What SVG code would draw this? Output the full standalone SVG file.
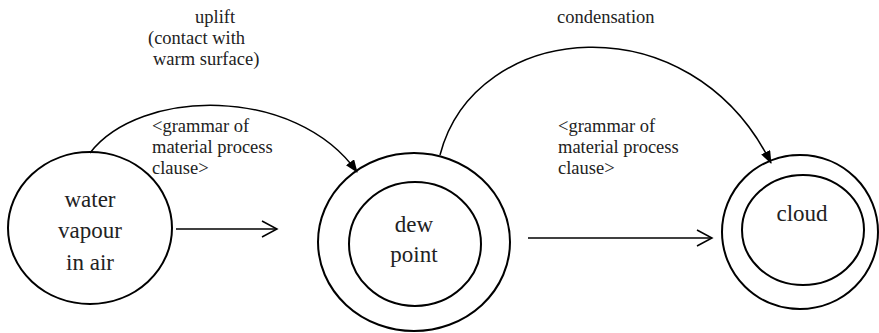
<svg xmlns="http://www.w3.org/2000/svg" width="879" height="333" viewBox="0 0 879 333">
<style>
.node{fill:none;stroke:#000;stroke-width:2}
.nt{font-size:23px;fill:#222;text-anchor:middle}
.lt{font-size:18.5px;fill:#222}
.arc{fill:none;stroke:#000;stroke-width:1.5}
.str{fill:none;stroke:#000;stroke-width:1.5}
</style>
<defs>
<marker id="filled" markerWidth="14" markerHeight="12" refX="12" refY="5" orient="auto" markerUnits="userSpaceOnUse">
<path d="M0,0 L13,5 L0,10 Z" fill="#000"/>
</marker>
<marker id="open" markerWidth="18" markerHeight="20" refX="16" refY="9" orient="auto" markerUnits="userSpaceOnUse">
<path d="M1,1 L16,9 L1,17" fill="none" stroke="#000" stroke-width="1.5"/>
</marker>
</defs>
<rect width="879" height="333" fill="#fff"/>
<g id="connectors">
<path class="arc" d="M90,153 C140,88 295,85 357,172" marker-end="url(#filled)"/>
<path class="arc" d="M440,155 C475,20 690,0 771,163" marker-end="url(#filled)"/>
<line class="str" x1="176" y1="229" x2="277" y2="229" marker-end="url(#open)"/>
<line class="str" x1="528" y1="238" x2="712" y2="238" marker-end="url(#open)"/>
</g>
<g font-family="'Liberation Serif', 'Times New Roman', 'DejaVu Serif', serif">
<g id="labels">
<text class="lt" x="195" y="23">uplift</text>
<text class="lt" x="148" y="44">(contact with</text>
<text class="lt" x="153" y="65">warm surface)</text>
<text class="lt" x="152" y="132">&lt;grammar of</text>
<text class="lt" x="152" y="153">material process</text>
<text class="lt" x="152" y="174">clause&gt;</text>
<text class="lt" x="557" y="23">condensation</text>
<text class="lt" x="558" y="132">&lt;grammar of</text>
<text class="lt" x="558" y="153">material process</text>
<text class="lt" x="558" y="174">clause&gt;</text>
</g>
<g id="water-vapour">
<ellipse class="node" cx="90" cy="228" rx="82" ry="76"/>
<text class="nt" x="90" y="207">water</text>
<text class="nt" x="90" y="238">vapour</text>
<text class="nt" x="90" y="270">in air</text>
</g>
<g id="dew-point">
<ellipse class="node" cx="414" cy="242" rx="96" ry="89"/>
<ellipse class="node" cx="415" cy="244" rx="66" ry="62"/>
<text class="nt" x="414" y="232">dew</text>
<text class="nt" x="414" y="262">point</text>
</g>
<g id="cloud">
<ellipse class="node" cx="800" cy="232" rx="78" ry="77"/>
<ellipse class="node" cx="803" cy="230" rx="61" ry="55"/>
<text class="nt" x="802" y="221">cloud</text>
</g>
</g>
</svg>
